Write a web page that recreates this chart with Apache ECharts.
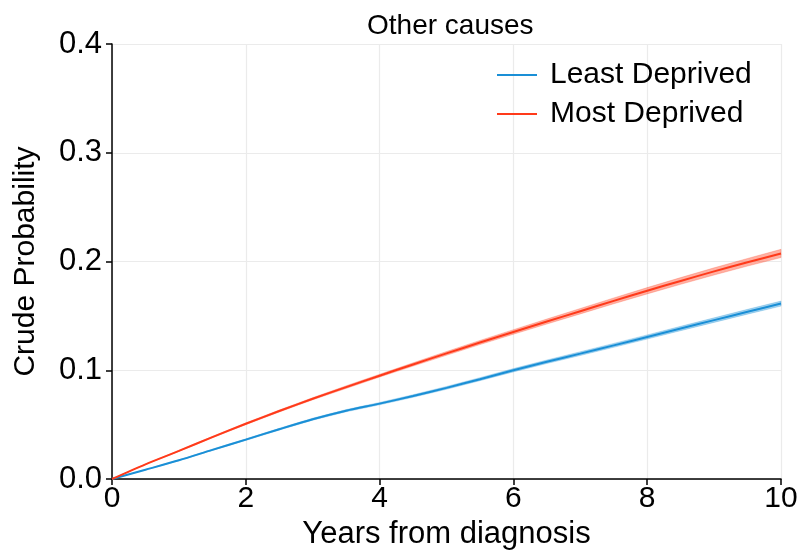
<!DOCTYPE html>
<html>
<head>
<meta charset="utf-8">
<script src="https://cdn.jsdelivr.net/npm/echarts@6/dist/echarts.min.js"></script>
<style>
  html, body { margin: 0; padding: 0; background: #fff; }
  #chart { width: 800px; height: 552px; }
</style>
</head>
<body>
<div id="chart"></div>
<script>
// Years since diagnosis (0.5-year steps)
const years = [0, 0.5, 1, 1.5, 2, 2.5, 3, 3.5, 4, 4.5, 5, 5.5, 6, 6.5, 7, 7.5, 8, 8.5, 9, 9.5, 10];

// Crude probability of death from other causes, with confidence limits
const leastDeprived = [0, 0.0085, 0.0172, 0.0268, 0.0362, 0.0458, 0.0550, 0.0628, 0.0693, 0.0763, 0.0838, 0.0918, 0.1000, 0.1078, 0.1153, 0.1229, 0.1306, 0.1384, 0.1461, 0.1538, 0.1613];
const leastLower    = [0, 0.0083, 0.0168, 0.0262, 0.0355, 0.0450, 0.0541, 0.0618, 0.0682, 0.0751, 0.0825, 0.0904, 0.0985, 0.1062, 0.1136, 0.1211, 0.1287, 0.1364, 0.1440, 0.1516, 0.1590];
const leastUpper    = [0, 0.0087, 0.0176, 0.0274, 0.0369, 0.0466, 0.0559, 0.0638, 0.0704, 0.0775, 0.0851, 0.0932, 0.1015, 0.1094, 0.1170, 0.1247, 0.1325, 0.1404, 0.1482, 0.1560, 0.1636];

const mostDeprived  = [0, 0.0135, 0.0258, 0.0385, 0.0508, 0.0625, 0.0738, 0.0845, 0.0950, 0.1053, 0.1155, 0.1255, 0.1352, 0.1448, 0.1543, 0.1638, 0.1731, 0.1821, 0.1909, 0.1993, 0.2074];
const mostLower     = [0, 0.0133, 0.0254, 0.0379, 0.0500, 0.0616, 0.0728, 0.0833, 0.0937, 0.1038, 0.1138, 0.1236, 0.1331, 0.1425, 0.1518, 0.1611, 0.1702, 0.1790, 0.1876, 0.1958, 0.2036];
const mostUpper     = [0, 0.0137, 0.0262, 0.0391, 0.0516, 0.0634, 0.0748, 0.0857, 0.0963, 0.1068, 0.1172, 0.1274, 0.1373, 0.1471, 0.1568, 0.1665, 0.1760, 0.1852, 0.1942, 0.2028, 0.2112];

// Axis tick values
const xTicks = [0, 2, 4, 6, 8, 10];
const yTicks = [0, 0.1, 0.2, 0.3, 0.4];

const BLUE = '#1a8fd6';
const RED = '#ff3a1a';
const FONT = '"Liberation Sans", Arial, sans-serif';

const pairs = (ys) => years.map((x, i) => [x, ys[i]]);

// Confidence band drawn as one polygon through the axis coordinate system
function band(name, lo, hi, color) {
  return {
    name: name,
    type: 'custom',
    silent: true,
    z: 1,
    data: years.map((x, i) => [x, lo[i], hi[i]]),
    encode: { x: 0, y: [1, 2] },
    renderItem: function (params, api) {
      if (params.dataIndex !== 0) return;
      const upper = years.map((x, i) => api.coord([x, hi[i]]));
      const lower = years.map((x, i) => api.coord([x, lo[i]])).reverse();
      return {
        type: 'polygon',
        shape: { points: upper.concat(lower) },
        style: { fill: color, opacity: 0.4, stroke: color, lineWidth: 0.6 }
      };
    }
  };
}

const chart = echarts.init(document.getElementById('chart'), null, { renderer: 'canvas' });

chart.setOption({
  animation: false,
  backgroundColor: '#ffffff',
  textStyle: { fontFamily: FONT },
  title: {
    text: 'Other causes',
    left: 362,
    top: 7,
    textStyle: { fontFamily: FONT, fontSize: 28, fontWeight: 'normal', color: '#000' }
  },
  legend: {
    data: ['Least Deprived', 'Most Deprived'],
    orient: 'vertical',
    left: 497,
    top: 60,
    padding: 0,
    itemWidth: 40,
    itemHeight: 2,
    itemGap: 9,
    icon: 'rect',
    textStyle: { fontFamily: FONT, fontSize: 30, color: '#000', padding: [0, 0, 0, 8] }
  },
  grid: { left: 112, right: 19, top: 44, bottom: 73, containLabel: false, outerBoundsMode: 'none' },
  xAxis: {
    type: 'value',
    min: xTicks[0],
    max: xTicks[xTicks.length - 1],
    interval: 2,
    name: 'Years from diagnosis',
    nameLocation: 'middle',
    nameGap: 37,
    nameTextStyle: { fontFamily: FONT, fontSize: 31, color: '#000' },
    axisLine: { lineStyle: { color: '#000', width: 1.5 } },
    axisTick: { show: true, inside: false, length: 6, lineStyle: { color: '#000', width: 1.5 } },
    axisLabel: { fontFamily: FONT, fontSize: 30, color: '#000', margin: 5 },
    splitLine: { show: true, lineStyle: { color: '#ebebeb', width: 1.2 } }
  },
  yAxis: {
    type: 'value',
    min: yTicks[0],
    max: yTicks[yTicks.length - 1],
    interval: 0.1,
    name: 'Crude Probability',
    nameLocation: 'middle',
    nameGap: 71,
    nameTextStyle: { fontFamily: FONT, fontSize: 30, color: '#000' },
    axisLine: { show: true, lineStyle: { color: '#000', width: 1.5 } },
    axisTick: { show: true, inside: false, length: 6, lineStyle: { color: '#000', width: 1.5 } },
    axisLabel: { fontFamily: FONT, fontSize: 31, color: '#000', margin: 10, formatter: (v) => v.toFixed(1) },
    splitLine: { show: true, lineStyle: { color: '#ebebeb', width: 1.2 } }
  },
  series: [
    band('least band', leastLower, leastUpper, BLUE),
    band('most band', mostLower, mostUpper, RED),
    {
      name: 'Least Deprived',
      type: 'line',
      data: pairs(leastDeprived),
      symbol: 'none',
      smooth: 0.3,
      color: BLUE,
      lineStyle: { color: BLUE, width: 2 },
      z: 3
    },
    {
      name: 'Most Deprived',
      type: 'line',
      data: pairs(mostDeprived),
      symbol: 'none',
      smooth: 0.3,
      color: RED,
      lineStyle: { color: RED, width: 2 },
      z: 3
    }
  ]
});
</script>
</body>
</html>
